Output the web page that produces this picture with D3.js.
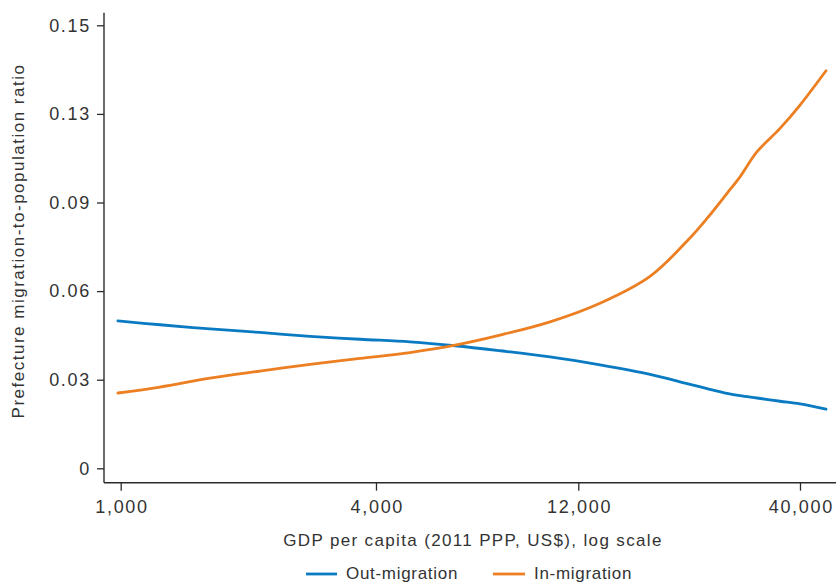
<!DOCTYPE html>
<html>
<head>
<meta charset="utf-8">
<script src="https://cdn.jsdelivr.net/npm/d3@7"></script>
<style>
  html, body { margin: 0; padding: 0; background: #fff; }
  svg { display: block; font-family: "Liberation Sans", Arial, sans-serif; }
</style>
</head>
<body>
<svg id="chart" width="836" height="584"></svg>
<script>
// GDP per capita (2011 PPP, US$)
const gdp = [985, 1238, 1624, 2130, 2796, 3667, 4812, 6143, 7845, 10292, 13503, 17715, 21777, 24140, 26915, 28880, 31680, 35890, 40010, 46066];
const outMigration = [0.0499, 0.0486, 0.0472, 0.0460, 0.0447, 0.0437, 0.0428, 0.0415, 0.0398, 0.0377, 0.0350, 0.0318, 0.0286, 0.0270, 0.0254, 0.0246, 0.0238, 0.0227, 0.0218, 0.0200];
const inMigration = [0.0255, 0.0275, 0.0305, 0.0329, 0.0352, 0.0372, 0.0392, 0.0417, 0.0451, 0.0496, 0.0559, 0.0650, 0.0773, 0.0846, 0.0931, 0.0987, 0.1072, 0.1151, 0.1230, 0.1346];
const xTickValues = [1000, 4000, 12000, 40000];
const xTickLabels = ["1,000", "4,000", "12,000", "40,000"];
const yTickValues = [0, 0.03, 0.06, 0.09, 0.12, 0.15];
const yTickLabels = ["0", "0.03", "0.06", "0.09", "0.13", "0.15"];
const seriesNames = ["Out-migration", "In-migration"];
const seriesColors = ["#0a7bc3", "#ec7f22"];

const svg = d3.select("#chart");
const axisColor = "#2b2b2b";
const textColor = "#333";

const x = d3.scaleLog().domain([1000, 40000]).range([120.7, 800]);
const y = d3.scaleLinear().domain([0, 0.15]).range([468.3, 25.3]);

const axisLeftX = 104, axisBottomY = 482.7, axisTop = 12.7, axisRight = 836;

// Y axis
const yAxis = d3.axisLeft(y).tickValues(yTickValues)
  .tickFormat((d, i) => yTickLabels[i]).tickSize(7).tickPadding(6);
const gy = svg.append("g").attr("transform", `translate(${axisLeftX},0)`).call(yAxis);
gy.select(".domain").remove();
gy.selectAll(".tick line").attr("stroke", axisColor).attr("stroke-width", 1.3);
gy.selectAll(".tick text").attr("fill", textColor).style("font-size", "18px")
  .style("letter-spacing", "1.7px")
  .style("font-family", "Liberation Sans, Arial, sans-serif");

// X axis
const xAxis = d3.axisBottom(x).tickValues(xTickValues)
  .tickFormat((d, i) => xTickLabels[i]).tickSize(8).tickPadding(10);
const gx = svg.append("g").attr("transform", `translate(0,${axisBottomY})`).call(xAxis);
gx.select(".domain").remove();
gx.selectAll(".tick line").attr("stroke", axisColor).attr("stroke-width", 1.3);
gx.selectAll(".tick text").attr("fill", textColor).style("font-size", "18px")
  .style("letter-spacing", "1.7px")
  .attr("dx", "0.8px")
  .style("font-family", "Liberation Sans, Arial, sans-serif");

// Axis lines
svg.append("line").attr("x1", axisLeftX).attr("x2", axisLeftX)
  .attr("y1", axisTop).attr("y2", axisBottomY)
  .attr("stroke", axisColor).attr("stroke-width", 1.4);
svg.append("line").attr("x1", axisLeftX).attr("x2", axisRight)
  .attr("y1", axisBottomY).attr("y2", axisBottomY)
  .attr("stroke", axisColor).attr("stroke-width", 1.4);

// Lines
const series = [outMigration, inMigration];
const line = d3.line().x((d, i) => x(gdp[i])).y(d => y(d)).curve(d3.curveCatmullRom.alpha(0.5));
series.forEach((vals, k) => {
  svg.append("path").datum(vals)
    .attr("d", line)
    .attr("fill", "none")
    .attr("stroke", seriesColors[k])
    .attr("stroke-width", 2.8)
    .attr("stroke-linecap", "round")
    .attr("stroke-linejoin", "round");
});

// Axis titles
svg.append("text")
  .attr("transform", "translate(24,241) rotate(-90)")
  .attr("text-anchor", "middle")
  .attr("fill", textColor)
  .style("font-size", "17px")
  .style("letter-spacing", "1.5px")
  .text("Prefecture migration-to-population ratio");

svg.append("text")
  .attr("x", 473).attr("y", 546)
  .attr("text-anchor", "middle")
  .attr("fill", textColor)
  .style("font-size", "17px")
  .style("letter-spacing", "1.35px")
  .text("GDP per capita (2011 PPP, US$), log scale");

// Legend
const legendItems = [
  { x1: 306, x2: 337, tx: 346 },
  { x1: 493, x2: 525, tx: 534 }
];
legendItems.forEach((it, k) => {
  svg.append("line").attr("x1", it.x1).attr("x2", it.x2)
    .attr("y1", 574).attr("y2", 574)
    .attr("stroke", seriesColors[k]).attr("stroke-width", 2.8);
  svg.append("text").attr("x", it.tx).attr("y", 579)
    .attr("fill", textColor).style("font-size", "17px")
    .style("letter-spacing", "0.7px")
    .text(seriesNames[k]);
});
</script>
</body>
</html>
